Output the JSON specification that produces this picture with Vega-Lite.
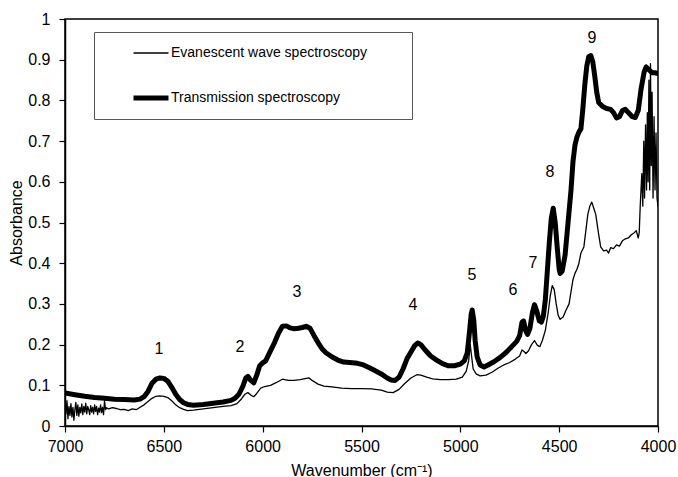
{
  "$schema": "https://vega.github.io/schema/vega-lite/v6.json",
  "autosize": "none",
  "width": 593,
  "height": 407,
  "padding": {"left": 65, "top": 19, "right": 20, "bottom": 51},
  "background": "white",
  "config": {
    "font": "Liberation Sans",
    "view": {"stroke": "black", "strokeWidth": 1.5},
    "axis": {"grid": false, "domainColor": "black", "tickColor": "black", "labelColor": "black", "titleColor": "black", "labelFontSize": 16, "titleFontSize": 16, "titleFontWeight": "normal", "tickSize": 6, "domainWidth": 1.5, "tickWidth": 1.2, "labelFont": "Liberation Sans", "titleFont": "Liberation Sans", "labelFlush": false, "labelOverlap": false}
  },
  "datasets": {
    "spectra": [
      {"s":"Transmission spectroscopy","w":7000,"a":0.081},{"s":"Transmission spectroscopy","w":6950,"a":0.077},{"s":"Transmission spectroscopy","w":6900,"a":0.073},{"s":"Transmission spectroscopy","w":6850,"a":0.070},{"s":"Transmission spectroscopy","w":6800,"a":0.068},{"s":"Transmission spectroscopy","w":6750,"a":0.066},{"s":"Transmission spectroscopy","w":6700,"a":0.065},{"s":"Transmission spectroscopy","w":6650,"a":0.064},{"s":"Transmission spectroscopy","w":6620,"a":0.066},{"s":"Transmission spectroscopy","w":6600,"a":0.072},{"s":"Transmission spectroscopy","w":6580,"a":0.085},{"s":"Transmission spectroscopy","w":6560,"a":0.105},{"s":"Transmission spectroscopy","w":6540,"a":0.115},{"s":"Transmission spectroscopy","w":6520,"a":0.118},{"s":"Transmission spectroscopy","w":6500,"a":0.117},{"s":"Transmission spectroscopy","w":6480,"a":0.110},{"s":"Transmission spectroscopy","w":6460,"a":0.095},{"s":"Transmission spectroscopy","w":6440,"a":0.078},{"s":"Transmission spectroscopy","w":6420,"a":0.065},{"s":"Transmission spectroscopy","w":6400,"a":0.057},{"s":"Transmission spectroscopy","w":6380,"a":0.053},{"s":"Transmission spectroscopy","w":6350,"a":0.051},{"s":"Transmission spectroscopy","w":6300,"a":0.053},{"s":"Transmission spectroscopy","w":6250,"a":0.056},{"s":"Transmission spectroscopy","w":6200,"a":0.059},{"s":"Transmission spectroscopy","w":6160,"a":0.063},{"s":"Transmission spectroscopy","w":6140,"a":0.068},{"s":"Transmission spectroscopy","w":6120,"a":0.078},{"s":"Transmission spectroscopy","w":6100,"a":0.098},{"s":"Transmission spectroscopy","w":6085,"a":0.118},{"s":"Transmission spectroscopy","w":6075,"a":0.122},{"s":"Transmission spectroscopy","w":6060,"a":0.112},{"s":"Transmission spectroscopy","w":6045,"a":0.106},{"s":"Transmission spectroscopy","w":6030,"a":0.125},{"s":"Transmission spectroscopy","w":6015,"a":0.148},{"s":"Transmission spectroscopy","w":6000,"a":0.155},{"s":"Transmission spectroscopy","w":5985,"a":0.160},{"s":"Transmission spectroscopy","w":5960,"a":0.185},{"s":"Transmission spectroscopy","w":5940,"a":0.205},{"s":"Transmission spectroscopy","w":5920,"a":0.228},{"s":"Transmission spectroscopy","w":5900,"a":0.245},{"s":"Transmission spectroscopy","w":5880,"a":0.246},{"s":"Transmission spectroscopy","w":5860,"a":0.241},{"s":"Transmission spectroscopy","w":5840,"a":0.239},{"s":"Transmission spectroscopy","w":5820,"a":0.240},{"s":"Transmission spectroscopy","w":5800,"a":0.242},{"s":"Transmission spectroscopy","w":5780,"a":0.245},{"s":"Transmission spectroscopy","w":5760,"a":0.240},{"s":"Transmission spectroscopy","w":5740,"a":0.222},{"s":"Transmission spectroscopy","w":5720,"a":0.205},{"s":"Transmission spectroscopy","w":5700,"a":0.190},{"s":"Transmission spectroscopy","w":5680,"a":0.180},{"s":"Transmission spectroscopy","w":5650,"a":0.170},{"s":"Transmission spectroscopy","w":5620,"a":0.162},{"s":"Transmission spectroscopy","w":5590,"a":0.157},{"s":"Transmission spectroscopy","w":5560,"a":0.156},{"s":"Transmission spectroscopy","w":5520,"a":0.154},{"s":"Transmission spectroscopy","w":5490,"a":0.150},{"s":"Transmission spectroscopy","w":5460,"a":0.143},{"s":"Transmission spectroscopy","w":5440,"a":0.138},{"s":"Transmission spectroscopy","w":5400,"a":0.128},{"s":"Transmission spectroscopy","w":5370,"a":0.118},{"s":"Transmission spectroscopy","w":5350,"a":0.113},{"s":"Transmission spectroscopy","w":5330,"a":0.112},{"s":"Transmission spectroscopy","w":5310,"a":0.120},{"s":"Transmission spectroscopy","w":5290,"a":0.140},{"s":"Transmission spectroscopy","w":5270,"a":0.165},{"s":"Transmission spectroscopy","w":5250,"a":0.182},{"s":"Transmission spectroscopy","w":5230,"a":0.198},{"s":"Transmission spectroscopy","w":5215,"a":0.204},{"s":"Transmission spectroscopy","w":5200,"a":0.200},{"s":"Transmission spectroscopy","w":5180,"a":0.188},{"s":"Transmission spectroscopy","w":5150,"a":0.172},{"s":"Transmission spectroscopy","w":5120,"a":0.162},{"s":"Transmission spectroscopy","w":5090,"a":0.153},{"s":"Transmission spectroscopy","w":5060,"a":0.148},{"s":"Transmission spectroscopy","w":5030,"a":0.148},{"s":"Transmission spectroscopy","w":5000,"a":0.152},{"s":"Transmission spectroscopy","w":4980,"a":0.160},{"s":"Transmission spectroscopy","w":4965,"a":0.180},{"s":"Transmission spectroscopy","w":4955,"a":0.225},{"s":"Transmission spectroscopy","w":4945,"a":0.275},{"s":"Transmission spectroscopy","w":4940,"a":0.285},{"s":"Transmission spectroscopy","w":4932,"a":0.260},{"s":"Transmission spectroscopy","w":4925,"a":0.210},{"s":"Transmission spectroscopy","w":4915,"a":0.170},{"s":"Transmission spectroscopy","w":4900,"a":0.150},{"s":"Transmission spectroscopy","w":4880,"a":0.145},{"s":"Transmission spectroscopy","w":4860,"a":0.150},{"s":"Transmission spectroscopy","w":4830,"a":0.158},{"s":"Transmission spectroscopy","w":4800,"a":0.168},{"s":"Transmission spectroscopy","w":4770,"a":0.180},{"s":"Transmission spectroscopy","w":4740,"a":0.195},{"s":"Transmission spectroscopy","w":4715,"a":0.208},{"s":"Transmission spectroscopy","w":4700,"a":0.222},{"s":"Transmission spectroscopy","w":4688,"a":0.255},{"s":"Transmission spectroscopy","w":4680,"a":0.258},{"s":"Transmission spectroscopy","w":4670,"a":0.235},{"s":"Transmission spectroscopy","w":4660,"a":0.225},{"s":"Transmission spectroscopy","w":4648,"a":0.240},{"s":"Transmission spectroscopy","w":4635,"a":0.280},{"s":"Transmission spectroscopy","w":4625,"a":0.298},{"s":"Transmission spectroscopy","w":4615,"a":0.285},{"s":"Transmission spectroscopy","w":4600,"a":0.258},{"s":"Transmission spectroscopy","w":4590,"a":0.255},{"s":"Transmission spectroscopy","w":4580,"a":0.270},{"s":"Transmission spectroscopy","w":4570,"a":0.310},{"s":"Transmission spectroscopy","w":4560,"a":0.380},{"s":"Transmission spectroscopy","w":4550,"a":0.450},{"s":"Transmission spectroscopy","w":4540,"a":0.510},{"s":"Transmission spectroscopy","w":4530,"a":0.535},{"s":"Transmission spectroscopy","w":4520,"a":0.500},{"s":"Transmission spectroscopy","w":4510,"a":0.440},{"s":"Transmission spectroscopy","w":4500,"a":0.385},{"s":"Transmission spectroscopy","w":4495,"a":0.375},{"s":"Transmission spectroscopy","w":4485,"a":0.380},{"s":"Transmission spectroscopy","w":4470,"a":0.420},{"s":"Transmission spectroscopy","w":4455,"a":0.500},{"s":"Transmission spectroscopy","w":4440,"a":0.580},{"s":"Transmission spectroscopy","w":4430,"a":0.650},{"s":"Transmission spectroscopy","w":4420,"a":0.690},{"s":"Transmission spectroscopy","w":4410,"a":0.710},{"s":"Transmission spectroscopy","w":4400,"a":0.722},{"s":"Transmission spectroscopy","w":4390,"a":0.730},{"s":"Transmission spectroscopy","w":4380,"a":0.780},{"s":"Transmission spectroscopy","w":4370,"a":0.840},{"s":"Transmission spectroscopy","w":4360,"a":0.885},{"s":"Transmission spectroscopy","w":4350,"a":0.908},{"s":"Transmission spectroscopy","w":4340,"a":0.910},{"s":"Transmission spectroscopy","w":4330,"a":0.895},{"s":"Transmission spectroscopy","w":4320,"a":0.860},{"s":"Transmission spectroscopy","w":4310,"a":0.820},{"s":"Transmission spectroscopy","w":4300,"a":0.795},{"s":"Transmission spectroscopy","w":4280,"a":0.785},{"s":"Transmission spectroscopy","w":4260,"a":0.780},{"s":"Transmission spectroscopy","w":4240,"a":0.778},{"s":"Transmission spectroscopy","w":4225,"a":0.770},{"s":"Transmission spectroscopy","w":4210,"a":0.757},{"s":"Transmission spectroscopy","w":4195,"a":0.760},{"s":"Transmission spectroscopy","w":4180,"a":0.775},{"s":"Transmission spectroscopy","w":4165,"a":0.778},{"s":"Transmission spectroscopy","w":4150,"a":0.770},{"s":"Transmission spectroscopy","w":4130,"a":0.760},{"s":"Transmission spectroscopy","w":4115,"a":0.758},{"s":"Transmission spectroscopy","w":4100,"a":0.775},{"s":"Transmission spectroscopy","w":4085,"a":0.830},{"s":"Transmission spectroscopy","w":4070,"a":0.870},{"s":"Transmission spectroscopy","w":4060,"a":0.882},{"s":"Transmission spectroscopy","w":4045,"a":0.875},{"s":"Transmission spectroscopy","w":4030,"a":0.868},{"s":"Transmission spectroscopy","w":4015,"a":0.868},{"s":"Transmission spectroscopy","w":4000,"a":0.866},
      {"s":"Evanescent wave spectroscopy","w":7000,"a":0.065},{"s":"Evanescent wave spectroscopy","w":6995,"a":0.030},{"s":"Evanescent wave spectroscopy","w":6990,"a":0.062},{"s":"Evanescent wave spectroscopy","w":6985,"a":0.018},{"s":"Evanescent wave spectroscopy","w":6980,"a":0.048},{"s":"Evanescent wave spectroscopy","w":6975,"a":0.026},{"s":"Evanescent wave spectroscopy","w":6970,"a":0.055},{"s":"Evanescent wave spectroscopy","w":6965,"a":0.022},{"s":"Evanescent wave spectroscopy","w":6960,"a":0.046},{"s":"Evanescent wave spectroscopy","w":6955,"a":0.014},{"s":"Evanescent wave spectroscopy","w":6950,"a":0.040},{"s":"Evanescent wave spectroscopy","w":6945,"a":0.058},{"s":"Evanescent wave spectroscopy","w":6940,"a":0.026},{"s":"Evanescent wave spectroscopy","w":6935,"a":0.052},{"s":"Evanescent wave spectroscopy","w":6930,"a":0.024},{"s":"Evanescent wave spectroscopy","w":6925,"a":0.046},{"s":"Evanescent wave spectroscopy","w":6920,"a":0.032},{"s":"Evanescent wave spectroscopy","w":6915,"a":0.054},{"s":"Evanescent wave spectroscopy","w":6910,"a":0.028},{"s":"Evanescent wave spectroscopy","w":6905,"a":0.048},{"s":"Evanescent wave spectroscopy","w":6900,"a":0.034},{"s":"Evanescent wave spectroscopy","w":6895,"a":0.056},{"s":"Evanescent wave spectroscopy","w":6890,"a":0.030},{"s":"Evanescent wave spectroscopy","w":6885,"a":0.048},{"s":"Evanescent wave spectroscopy","w":6880,"a":0.040},{"s":"Evanescent wave spectroscopy","w":6875,"a":0.028},{"s":"Evanescent wave spectroscopy","w":6870,"a":0.050},{"s":"Evanescent wave spectroscopy","w":6865,"a":0.034},{"s":"Evanescent wave spectroscopy","w":6860,"a":0.046},{"s":"Evanescent wave spectroscopy","w":6855,"a":0.030},{"s":"Evanescent wave spectroscopy","w":6850,"a":0.052},{"s":"Evanescent wave spectroscopy","w":6845,"a":0.036},{"s":"Evanescent wave spectroscopy","w":6840,"a":0.048},{"s":"Evanescent wave spectroscopy","w":6835,"a":0.028},{"s":"Evanescent wave spectroscopy","w":6830,"a":0.044},{"s":"Evanescent wave spectroscopy","w":6825,"a":0.034},{"s":"Evanescent wave spectroscopy","w":6820,"a":0.052},{"s":"Evanescent wave spectroscopy","w":6815,"a":0.033},{"s":"Evanescent wave spectroscopy","w":6810,"a":0.046},{"s":"Evanescent wave spectroscopy","w":6805,"a":0.028},{"s":"Evanescent wave spectroscopy","w":6800,"a":0.062},{"s":"Evanescent wave spectroscopy","w":6795,"a":0.040},{"s":"Evanescent wave spectroscopy","w":6790,"a":0.045},{"s":"Evanescent wave spectroscopy","w":6780,"a":0.042},{"s":"Evanescent wave spectroscopy","w":6760,"a":0.045},{"s":"Evanescent wave spectroscopy","w":6740,"a":0.043},{"s":"Evanescent wave spectroscopy","w":6720,"a":0.040},{"s":"Evanescent wave spectroscopy","w":6700,"a":0.041},{"s":"Evanescent wave spectroscopy","w":6680,"a":0.038},{"s":"Evanescent wave spectroscopy","w":6660,"a":0.042},{"s":"Evanescent wave spectroscopy","w":6640,"a":0.040},{"s":"Evanescent wave spectroscopy","w":6620,"a":0.046},{"s":"Evanescent wave spectroscopy","w":6600,"a":0.052},{"s":"Evanescent wave spectroscopy","w":6580,"a":0.060},{"s":"Evanescent wave spectroscopy","w":6560,"a":0.068},{"s":"Evanescent wave spectroscopy","w":6540,"a":0.073},{"s":"Evanescent wave spectroscopy","w":6520,"a":0.074},{"s":"Evanescent wave spectroscopy","w":6500,"a":0.073},{"s":"Evanescent wave spectroscopy","w":6480,"a":0.070},{"s":"Evanescent wave spectroscopy","w":6460,"a":0.062},{"s":"Evanescent wave spectroscopy","w":6440,"a":0.052},{"s":"Evanescent wave spectroscopy","w":6420,"a":0.045},{"s":"Evanescent wave spectroscopy","w":6400,"a":0.041},{"s":"Evanescent wave spectroscopy","w":6380,"a":0.038},{"s":"Evanescent wave spectroscopy","w":6350,"a":0.039},{"s":"Evanescent wave spectroscopy","w":6300,"a":0.042},{"s":"Evanescent wave spectroscopy","w":6250,"a":0.045},{"s":"Evanescent wave spectroscopy","w":6200,"a":0.048},{"s":"Evanescent wave spectroscopy","w":6160,"a":0.050},{"s":"Evanescent wave spectroscopy","w":6130,"a":0.055},{"s":"Evanescent wave spectroscopy","w":6110,"a":0.065},{"s":"Evanescent wave spectroscopy","w":6090,"a":0.078},{"s":"Evanescent wave spectroscopy","w":6075,"a":0.082},{"s":"Evanescent wave spectroscopy","w":6060,"a":0.076},{"s":"Evanescent wave spectroscopy","w":6045,"a":0.072},{"s":"Evanescent wave spectroscopy","w":6030,"a":0.080},{"s":"Evanescent wave spectroscopy","w":6010,"a":0.093},{"s":"Evanescent wave spectroscopy","w":5990,"a":0.097},{"s":"Evanescent wave spectroscopy","w":5960,"a":0.100},{"s":"Evanescent wave spectroscopy","w":5930,"a":0.107},{"s":"Evanescent wave spectroscopy","w":5900,"a":0.115},{"s":"Evanescent wave spectroscopy","w":5870,"a":0.112},{"s":"Evanescent wave spectroscopy","w":5840,"a":0.112},{"s":"Evanescent wave spectroscopy","w":5810,"a":0.114},{"s":"Evanescent wave spectroscopy","w":5780,"a":0.117},{"s":"Evanescent wave spectroscopy","w":5765,"a":0.118},{"s":"Evanescent wave spectroscopy","w":5750,"a":0.112},{"s":"Evanescent wave spectroscopy","w":5720,"a":0.103},{"s":"Evanescent wave spectroscopy","w":5690,"a":0.098},{"s":"Evanescent wave spectroscopy","w":5650,"a":0.096},{"s":"Evanescent wave spectroscopy","w":5600,"a":0.093},{"s":"Evanescent wave spectroscopy","w":5550,"a":0.092},{"s":"Evanescent wave spectroscopy","w":5500,"a":0.092},{"s":"Evanescent wave spectroscopy","w":5450,"a":0.091},{"s":"Evanescent wave spectroscopy","w":5400,"a":0.088},{"s":"Evanescent wave spectroscopy","w":5370,"a":0.083},{"s":"Evanescent wave spectroscopy","w":5340,"a":0.082},{"s":"Evanescent wave spectroscopy","w":5310,"a":0.090},{"s":"Evanescent wave spectroscopy","w":5280,"a":0.105},{"s":"Evanescent wave spectroscopy","w":5250,"a":0.118},{"s":"Evanescent wave spectroscopy","w":5220,"a":0.126},{"s":"Evanescent wave spectroscopy","w":5200,"a":0.125},{"s":"Evanescent wave spectroscopy","w":5170,"a":0.120},{"s":"Evanescent wave spectroscopy","w":5140,"a":0.116},{"s":"Evanescent wave spectroscopy","w":5100,"a":0.114},{"s":"Evanescent wave spectroscopy","w":5060,"a":0.114},{"s":"Evanescent wave spectroscopy","w":5020,"a":0.115},{"s":"Evanescent wave spectroscopy","w":4990,"a":0.120},{"s":"Evanescent wave spectroscopy","w":4970,"a":0.135},{"s":"Evanescent wave spectroscopy","w":4958,"a":0.160},{"s":"Evanescent wave spectroscopy","w":4950,"a":0.200},{"s":"Evanescent wave spectroscopy","w":4944,"a":0.175},{"s":"Evanescent wave spectroscopy","w":4935,"a":0.140},{"s":"Evanescent wave spectroscopy","w":4920,"a":0.128},{"s":"Evanescent wave spectroscopy","w":4900,"a":0.123},{"s":"Evanescent wave spectroscopy","w":4870,"a":0.125},{"s":"Evanescent wave spectroscopy","w":4840,"a":0.132},{"s":"Evanescent wave spectroscopy","w":4810,"a":0.142},{"s":"Evanescent wave spectroscopy","w":4780,"a":0.150},{"s":"Evanescent wave spectroscopy","w":4750,"a":0.156},{"s":"Evanescent wave spectroscopy","w":4720,"a":0.165},{"s":"Evanescent wave spectroscopy","w":4700,"a":0.172},{"s":"Evanescent wave spectroscopy","w":4688,"a":0.187},{"s":"Evanescent wave spectroscopy","w":4678,"a":0.183},{"s":"Evanescent wave spectroscopy","w":4668,"a":0.178},{"s":"Evanescent wave spectroscopy","w":4655,"a":0.185},{"s":"Evanescent wave spectroscopy","w":4640,"a":0.200},{"s":"Evanescent wave spectroscopy","w":4625,"a":0.210},{"s":"Evanescent wave spectroscopy","w":4610,"a":0.198},{"s":"Evanescent wave spectroscopy","w":4598,"a":0.195},{"s":"Evanescent wave spectroscopy","w":4585,"a":0.210},{"s":"Evanescent wave spectroscopy","w":4570,"a":0.235},{"s":"Evanescent wave spectroscopy","w":4555,"a":0.280},{"s":"Evanescent wave spectroscopy","w":4545,"a":0.320},{"s":"Evanescent wave spectroscopy","w":4535,"a":0.345},{"s":"Evanescent wave spectroscopy","w":4525,"a":0.335},{"s":"Evanescent wave spectroscopy","w":4515,"a":0.300},{"s":"Evanescent wave spectroscopy","w":4505,"a":0.272},{"s":"Evanescent wave spectroscopy","w":4495,"a":0.262},{"s":"Evanescent wave spectroscopy","w":4480,"a":0.268},{"s":"Evanescent wave spectroscopy","w":4465,"a":0.285},{"s":"Evanescent wave spectroscopy","w":4450,"a":0.300},{"s":"Evanescent wave spectroscopy","w":4440,"a":0.330},{"s":"Evanescent wave spectroscopy","w":4430,"a":0.360},{"s":"Evanescent wave spectroscopy","w":4420,"a":0.375},{"s":"Evanescent wave spectroscopy","w":4410,"a":0.385},{"s":"Evanescent wave spectroscopy","w":4400,"a":0.400},{"s":"Evanescent wave spectroscopy","w":4390,"a":0.425},{"s":"Evanescent wave spectroscopy","w":4375,"a":0.440},{"s":"Evanescent wave spectroscopy","w":4365,"a":0.480},{"s":"Evanescent wave spectroscopy","w":4355,"a":0.520},{"s":"Evanescent wave spectroscopy","w":4345,"a":0.540},{"s":"Evanescent wave spectroscopy","w":4335,"a":0.550},{"s":"Evanescent wave spectroscopy","w":4325,"a":0.535},{"s":"Evanescent wave spectroscopy","w":4315,"a":0.520},{"s":"Evanescent wave spectroscopy","w":4300,"a":0.470},{"s":"Evanescent wave spectroscopy","w":4290,"a":0.440},{"s":"Evanescent wave spectroscopy","w":4275,"a":0.430},{"s":"Evanescent wave spectroscopy","w":4260,"a":0.432},{"s":"Evanescent wave spectroscopy","w":4250,"a":0.425},{"s":"Evanescent wave spectroscopy","w":4240,"a":0.438},{"s":"Evanescent wave spectroscopy","w":4225,"a":0.436},{"s":"Evanescent wave spectroscopy","w":4210,"a":0.445},{"s":"Evanescent wave spectroscopy","w":4195,"a":0.442},{"s":"Evanescent wave spectroscopy","w":4180,"a":0.455},{"s":"Evanescent wave spectroscopy","w":4165,"a":0.460},{"s":"Evanescent wave spectroscopy","w":4150,"a":0.462},{"s":"Evanescent wave spectroscopy","w":4135,"a":0.470},{"s":"Evanescent wave spectroscopy","w":4120,"a":0.475},{"s":"Evanescent wave spectroscopy","w":4110,"a":0.480},{"s":"Evanescent wave spectroscopy","w":4100,"a":0.462},{"s":"Evanescent wave spectroscopy","w":4095,"a":0.475},{"s":"Evanescent wave spectroscopy","w":4090,"a":0.540},{"s":"Evanescent wave spectroscopy","w":4082,"a":0.620},{"s":"Evanescent wave spectroscopy","w":4077,"a":0.540},{"s":"Evanescent wave spectroscopy","w":4072,"a":0.700},{"s":"Evanescent wave spectroscopy","w":4068,"a":0.560},{"s":"Evanescent wave spectroscopy","w":4063,"a":0.740},{"s":"Evanescent wave spectroscopy","w":4058,"a":0.580},{"s":"Evanescent wave spectroscopy","w":4054,"a":0.770},{"s":"Evanescent wave spectroscopy","w":4050,"a":0.600},{"s":"Evanescent wave spectroscopy","w":4046,"a":0.850},{"s":"Evanescent wave spectroscopy","w":4042,"a":0.580},{"s":"Evanescent wave spectroscopy","w":4038,"a":0.890},{"s":"Evanescent wave spectroscopy","w":4034,"a":0.640},{"s":"Evanescent wave spectroscopy","w":4030,"a":0.820},{"s":"Evanescent wave spectroscopy","w":4025,"a":0.560},{"s":"Evanescent wave spectroscopy","w":4020,"a":0.760},{"s":"Evanescent wave spectroscopy","w":4015,"a":0.580},{"s":"Evanescent wave spectroscopy","w":4010,"a":0.720},{"s":"Evanescent wave spectroscopy","w":4005,"a":0.560},{"s":"Evanescent wave spectroscopy","w":4000,"a":0.540}
    ],
    "peaks": [
      {"w":6525,"a":0.19,"t":"1"},{"w":6115,"a":0.194,"t":"2"},{"w":5826,"a":0.33,"t":"3"},{"w":5240,"a":0.297,"t":"4"},{"w":4941,"a":0.371,"t":"5"},{"w":4734,"a":0.334,"t":"6"},{"w":4632,"a":0.40,"t":"7"},{"w":4546,"a":0.624,"t":"8"},{"w":4334,"a":0.953,"t":"9"}
    ]
  },
  "layer": [
    {
      "data": {"name": "spectra"},
      "mark": {"type": "line", "color": "black", "strokeJoin": "round", "strokeCap": "round", "clip": true},
      "encoding": {
        "x": {"field": "w", "type": "quantitative", "scale": {"domain": [4000, 7000], "reverse": true, "nice": false}, "axis": {"values": [4000, 4500, 5000, 5500, 6000, 6500, 7000], "format": "d", "title": "Wavenumber (cm⁻¹)", "labelPadding": 6, "titlePadding": 8}},
        "y": {"field": "a", "type": "quantitative", "scale": {"domain": [0, 1], "nice": false}, "axis": {"values": [0, 0.1, 0.2, 0.3, 0.4, 0.5, 0.6, 0.7, 0.8, 0.9, 1], "format": "~g", "title": "Absorbance", "labelPadding": 9, "titlePadding": 3}},
        "detail": {"field": "s"},
        "strokeWidth": {"field": "s", "type": "nominal", "scale": {"domain": ["Evanescent wave spectroscopy", "Transmission spectroscopy"], "range": [1.3, 5]}, "legend": {"title": " ", "titleOrient": "right", "titlePadding": 31, "titleFontSize": 8, "orient": "none", "legendX": 29, "legendY": 13, "symbolType": "stroke", "symbolSize": 1225, "symbolStrokeColor": "black", "labelFontSize": 14, "labelLimit": 400, "labelColor": "black", "labelFont": "Liberation Sans", "padding": 14, "rowPadding": 31, "clipHeight": 14, "strokeColor": "#555", "symbolOffset": 23, "labelOffset": 0, "fillColor": "white"}},
        "order": {"field": "w", "type": "quantitative"}
      }
    },
    {
      "data": {"name": "peaks"},
      "mark": {"type": "text", "fontSize": 16, "color": "black", "align": "center", "baseline": "middle"},
      "encoding": {
        "x": {"field": "w", "type": "quantitative"},
        "y": {"field": "a", "type": "quantitative"},
        "text": {"field": "t"}
      }
    }
  ]
}
